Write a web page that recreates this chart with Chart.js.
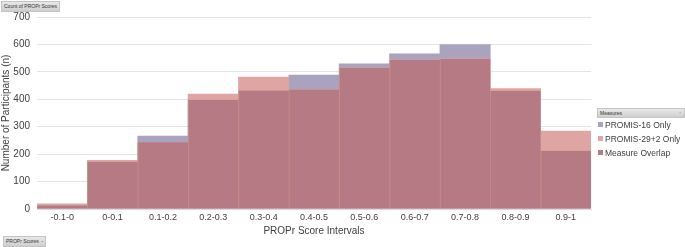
<!DOCTYPE html>
<html>
<head>
<meta charset="utf-8">
<script src="https://cdn.jsdelivr.net/npm/chart.js@4"></script>
<style>
  body { margin: 0; background: #fff; font-family: "Liberation Sans", Arial, sans-serif; }
  #wrap { position: relative; width: 685px; height: 247px; }
  .tag {
    position: absolute; font-size: 5px; color: #333; padding: 1px 2px;
    background: linear-gradient(#e8e8e8, #cfcfcf); border: 1px solid #c4c4c4; line-height: 7px;
  }
  #legend { position: absolute; left: 597px; top: 108px; width: 88px; font-size: 8.5px; color: #404040; }
  #legend .hd { font-size: 5px; color: #333; padding: 1px 2px; background: linear-gradient(#e8e8e8, #cfcfcf);
    border: 1px solid #c4c4c4; line-height: 6px; position: relative; }
  #legend .hd span { position: absolute; right: 3px; top: 0; color: #777; }
  #legend .it { height: 14px; line-height: 14px; white-space: nowrap; padding-left: 1px; }
  #legend .sw { display: inline-block; width: 5px; height: 5px; margin-right: 2px; vertical-align: 1px; }
</style>
</head>
<body>
<div id="wrap">
  <canvas id="grafica" width="685" height="247"></canvas>
  <div class="tag" style="left:1px;top:1px;">Count of PROPr Scores</div>
  <div class="tag" style="left:3px;top:236px;">PROPr Scores &nbsp;-</div>
  <div id="legend"></div>
</div>
<script>
// categorias (intervalos PROPr)
const intervalos = ["-0.1-0", "0-0.1", "0.1-0.2", "0.2-0.3", "0.3-0.4", "0.4-0.5",
  "0.5-0.6", "0.6-0.7", "0.7-0.8", "0.8-0.9", "0.9-1"];
// valores
const promis16 = [13, 172, 266, 398, 432, 488, 529, 566, 599, 431, 212];
const promis29 = [19, 177, 243, 419, 481, 436, 515, 544, 548, 439, 284];
const overlap = [13, 172, 243, 398, 432, 436, 515, 544, 548, 431, 212];
const yTicks = [0, 100, 200, 300, 400, 500, 600, 700];

const colores = ["#aaa3bf", "#dea5a3", "#b67a84"];
const nombres = ["PROMIS-16 Only", "PROMIS-29+2 Only", "Measure Overlap"];

// leyenda en html
let html = `<div class="hd">Measures<span>-</span></div>`;
nombres.forEach((n, i) => {
  html += `<div class="it"><span class="sw" style="background:${colores[i]}"></span>${n}</div>`;
});
document.getElementById("legend").innerHTML = html;

const ctx = document.getElementById("grafica").getContext("2d");
new Chart(ctx, {
  type: "bar",
  data: {
    labels: intervalos,
    datasets: [
      { label: nombres[0], data: promis16, backgroundColor: colores[0], order: 3 },
      { label: nombres[1], data: promis29, backgroundColor: colores[1], order: 2 },
      { label: nombres[2], data: overlap, backgroundColor: colores[2], order: 1,
        borderColor: "rgba(140,120,90,0.35)", borderWidth: { left: 1, right: 0, top: 0, bottom: 0 } },
    ].map((d) => Object.assign({ grouped: false, categoryPercentage: 1, barPercentage: 1 }, d)),
  },
  options: {
    responsive: false,
    animation: false,
    layout: { padding: { left: 0, right: 94, top: 17, bottom: 0 } },
    plugins: { legend: { display: false }, tooltip: { enabled: false } },
    scales: {
      x: {
        grid: { display: false, drawTicks: false },
        border: { color: "#d9d9d9" },
        ticks: { color: "#404040", font: { size: 9, family: "Liberation Sans" }, padding: 3, maxRotation: 0 },
        title: { display: true, text: "PROPr Score Intervals", color: "#404040",
          font: { size: 10, family: "Liberation Sans" }, padding: { top: 2, bottom: 10 } },
        afterFit: (s) => { s.height = 38; },
      },
      y: {
        min: 0, max: 700,
        afterBuildTicks: (s) => { s.ticks = yTicks.map((v) => ({ value: v })); },
        grid: { color: "#e4e4e4", drawTicks: false },
        border: { display: false },
        ticks: { color: "#404040", font: { size: 10, family: "Liberation Sans" }, padding: 7 },
        title: { display: true, text: "Number of Participants (n)", color: "#404040",
          font: { size: 10, family: "Liberation Sans" }, padding: { top: 0, bottom: 0 } },
        afterFit: (s) => { s.width = 37; },
      },
    },
  },
});
</script>
</body>
</html>
